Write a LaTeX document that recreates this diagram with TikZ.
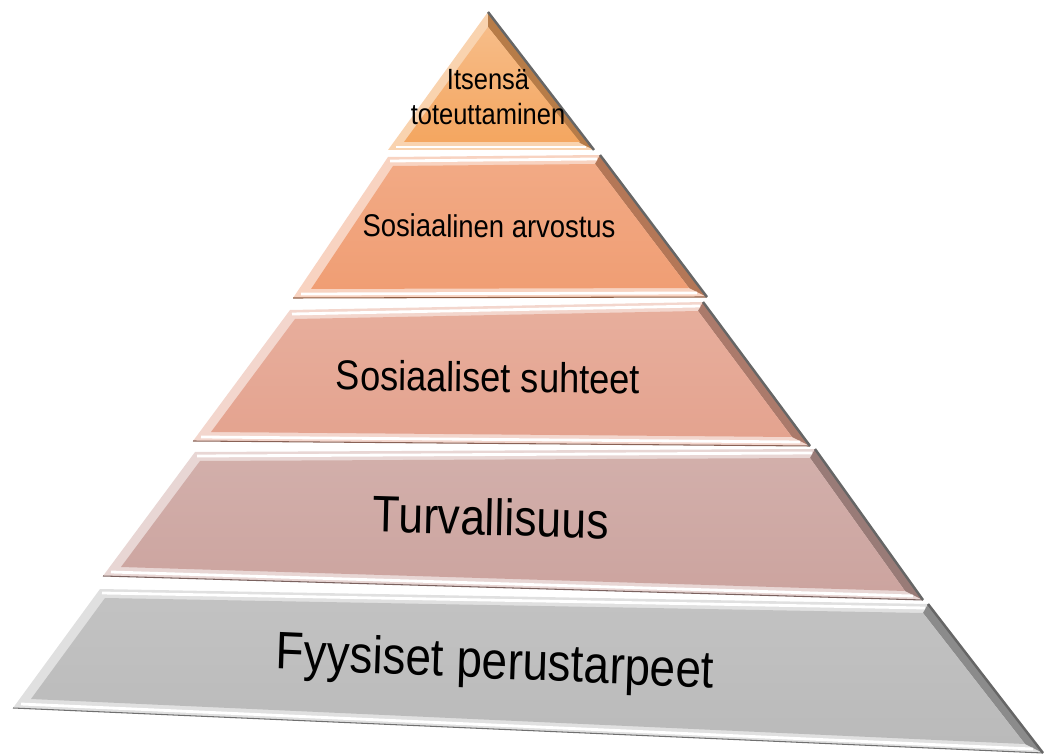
\documentclass[tikz,border=0pt]{standalone}
\usepackage{fontspec}
\setmainfont{Liberation Sans}
\usetikzlibrary{calc}

\definecolor{layone}{RGB}{244,166,96}
\definecolor{laytwo}{RGB}{240,158,116}
\definecolor{laythree}{RGB}{228,163,143}
\definecolor{layfour}{RGB}{204,164,159}
\definecolor{layfive}{RGB}{186,186,186}

\begin{document}
\begin{tikzpicture}[x=0.02cm, y=-0.02cm,
  tiertext/.style={inner sep=0pt, align=center, text=black, yscale=1.15},
  rim/.style={draw=black!60, line width=1.4pt, line join=round}]
\useasboundingbox (0,0) rectangle (1051,756);

% top tier (triangle)
\coordinate (one-top) at (488,12);
\coordinate (one-br) at (594,150);
\coordinate (one-bl) at (388,150);
\fill[layone!50!white] (one-top) -- (one-br) -- (one-bl) -- cycle;
\fill[layone!75!black] (one-top) -- (one-br) -- (580,143) -- (488,27) -- cycle;
\draw[white, line width=1.5pt] (396,147) -- (586,147);
\shade[top color=layone!75!white, bottom color=layone] (488,27) -- (580,142) -- (404,142) -- cycle;
\draw[rim] (one-top) -- (one-br);

% lower tiers (trapezoids)
\foreach \tier/\tlx/\tly/\trx/\try/\brx/\bry/\blx/\bly/\face in {
    two/388/157/600/155/707/297/293/298/laytwo,
    three/290/310/703/302/810/446/193/441/laythree,
    four/195/452/815/449/923/600/103/576/layfour,
    five/100/589/928/604/1043/753/13/708/layfive}
{
  \coordinate (\tier-tl) at (\tlx,\tly);
  \coordinate (\tier-tr) at (\trx,\try);
  \coordinate (\tier-br) at (\brx,\bry);
  \coordinate (\tier-bl) at (\blx,\bly);
  \fill[\face!45!white] (\tier-tl) -- (\tier-tr) -- (\tier-br) -- (\tier-bl) -- cycle;
  \fill[\face!75!black] (\tier-tr) -- (\tier-br) -- (\brx-18,\bry-9) -- (\trx-5,\try+9) -- cycle;
  \draw[white, line width=1.6pt] (\tlx+2,\tly+4) -- (\trx-3,\try+4);
  \draw[white, line width=1.6pt] (\blx+8,\bly-4) -- (\brx-10,\bry-4);
  \shade[top color=\face!88!white, bottom color=\face]
    (\tlx+5,\tly+9) -- (\trx-5,\try+9) -- (\brx-18,\bry-9) -- (\blx+18,\bly-9) -- cycle;
  \draw[\face!60!black, line width=0.6pt] (\tier-bl) -- (\tier-br);
  \draw[rim] (\tier-tr) -- (\tier-br);
}

\node[tiertext, font=\fontsize{14.5}{17.5}\selectfont] (peak) at (488,97) {Itsensä\\toteuttaminen};
\node[tiertext, font=\fontsize{15.6}{18}\selectfont, rotate=-0.3] (esteem) at (489,226) {Sosiaalinen arvostus};
\node[tiertext, font=\fontsize{20.6}{24}\selectfont, rotate=-0.7] (social) at (488,377) {Sosiaaliset suhteet};
\node[tiertext, font=\fontsize{25.3}{30}\selectfont, rotate=-1.5] (safety) at (491,517) {Turvallisuus};
\node[tiertext, font=\fontsize{26.1}{30}\selectfont, rotate=-2.2] (body) at (495,665) {Fyysiset perustarpeet};
\end{tikzpicture}
\end{document}
